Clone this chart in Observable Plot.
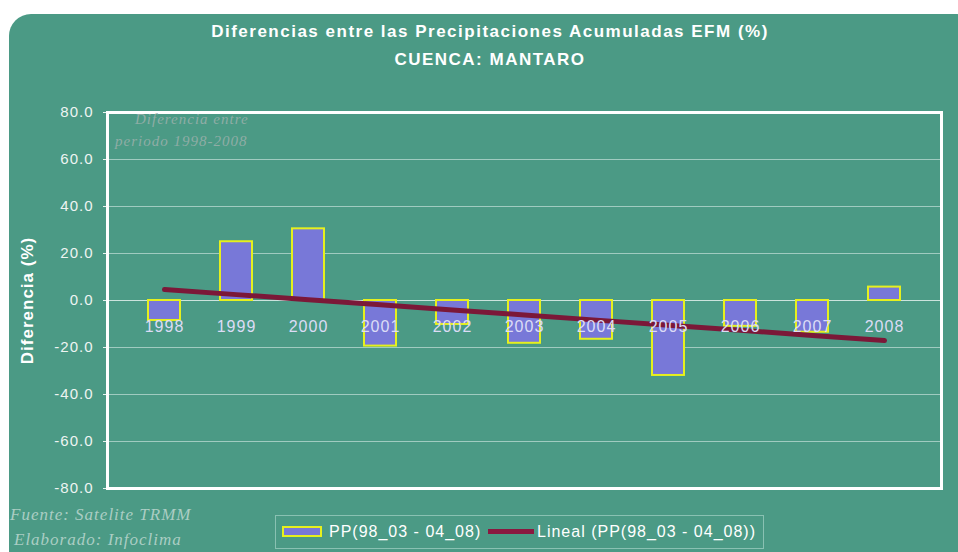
<!DOCTYPE html>
<html>
<head>
<meta charset="utf-8">
<script src="https://cdn.jsdelivr.net/npm/d3@7"></script>
<script src="https://cdn.jsdelivr.net/npm/@observablehq/plot@0.6"></script>
<style>
  html, body { margin: 0; padding: 0; background: #ffffff; width: 958px; height: 552px; overflow: hidden; }
  #panel { position: absolute; left: 9px; top: 14px; width: 970px; height: 560px; background: #4b9a85; border-radius: 22px; }
  #chart { position: absolute; left: 0; top: 0; }
  .t { position: absolute; color: #ffffff; font-family: "Liberation Sans", Arial, sans-serif; font-weight: bold; white-space: nowrap; letter-spacing: 1.5px; font-size: 17px; }
  .src { position: absolute; font-family: "Liberation Serif", serif; font-style: italic; color: rgba(210,226,222,0.72); font-size: 17px; letter-spacing: 1px; white-space: nowrap; }
  .faint { position: absolute; font-family: "Liberation Serif", serif; font-style: italic; color: #8fada5; font-size: 15px; letter-spacing: 1px; white-space: nowrap; }
  #legend { position: absolute; left: 275px; top: 515px; width: 489px; height: 34px; border: 1px solid rgba(190,225,215,0.55); box-sizing: border-box; font-family: "Liberation Sans", Arial, sans-serif; font-size: 16px; letter-spacing: 1px; color: #ffffff; }
  #legend span { position: absolute; top: 7px; white-space: nowrap; }
</style>
</head>
<body>
<div id="panel"></div>
<div id="chart"></div>
<div class="t" style="left:0;width:980px;text-align:center;top:22px;">Diferencias entre las Precipitaciones Acumuladas EFM (%)</div>
<div class="t" style="left:0;width:980px;text-align:center;top:50px;">CUENCA: MANTARO</div>
<div class="faint" style="left:135px;top:111px;">Diferencia entre</div>
<div class="faint" style="left:115px;top:133px;">periodo 1998-2008</div>
<div class="src" style="left:10px;top:505px;">Fuente: Satelite TRMM</div>
<div class="src" style="left:14px;top:530px;">Elaborado: Infoclima</div>
<div id="legend">
  <div style="position:absolute;left:6px;top:10px;width:36px;height:7px;background:#7878d8;border:2px solid #e6f01e;"></div>
  <span style="left:53px;">PP(98_03 - 04_08)</span>
  <div style="position:absolute;left:212px;top:13px;width:46px;height:5px;background:#8a1840;"></div>
  <span style="left:261px;">Lineal (PP(98_03 - 04_08))</span>
</div>
<script>
const years = ["1998","1999","2000","2001","2002","2003","2004","2005","2006","2007","2008"];
const values = [-8.5, 25.0, 30.5, -19.4, -10.2, -18.2, -16.5, -31.9, -11.0, -13.5, 5.7];
const yTicks = [-80, -60, -40, -20, 0, 20, 40, 60, 80];

const data = years.map((yr, i) => ({year: yr, value: values[i], idx: i}));

// least-squares linear trend (Excel "Lineal")
const mx = d3.mean(data, d => d.idx), my = d3.mean(values);
const slope = d3.sum(data, d => (d.idx - mx) * (d.value - my)) / d3.sum(data, d => (d.idx - mx) ** 2);
const trend = data.map(d => ({year: d.year, value: my + slope * (d.idx - mx)}));

const fmt = d => d.toFixed(1);

const chart = Plot.plot({
  width: 958,
  height: 552,
  marginLeft: 107,
  marginRight: 17,
  marginTop: 112,
  marginBottom: 64,
  style: {background: "transparent", fontFamily: "Liberation Sans, Arial, sans-serif", letterSpacing: "1px"},
  x: {domain: years, padding: 0.55, axis: null},
  y: {domain: [-80, 80], label: null},
  marks: [
    Plot.gridY(yTicks, {stroke: "#e8f4f0", strokeOpacity: 0.55, strokeWidth: 1}),
    Plot.axisY(yTicks, {tickFormat: fmt, fill: "#eef4f2", fontSize: 15, tickSize: 4, tickPadding: 10, stroke: "#e8f4f0", label: null}),
    Plot.ruleY([0], {stroke: "#e8f4f0", strokeOpacity: 0.6}),
    Plot.barY(data, {x: "year", y: "value", fill: "#7878d8", stroke: "#e6f01e", strokeWidth: 2}),
    Plot.line(trend, {x: "year", y: "value", stroke: "#7b1838", strokeWidth: 5}),
    Plot.text(data, {x: "year", y: () => 0, text: "year", dy: 26, fill: "#dcdcf6", fontSize: 16}),
    Plot.frame({stroke: "#ffffff", strokeWidth: 3}),
    Plot.text(["Diferencia (%)"], {frameAnchor: "left", dx: -80, rotate: -90, textAnchor: "middle", fill: "#ffffff", fontSize: 17, fontWeight: "bold"})
  ]
});
document.getElementById("chart").appendChild(chart);
</script>
</body>
</html>
